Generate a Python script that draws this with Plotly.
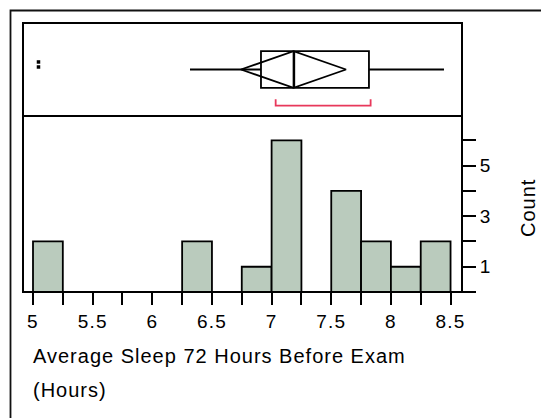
import plotly.graph_objects as go

# ---- data ----
bin_starts = [5.0, 6.25, 6.75, 7.0, 7.5, 7.75, 8.0, 8.25]
bin_counts = [2, 2, 1, 6, 4, 2, 1, 2]
bin_width = 0.25

# box plot summary
q1_value = 6.911
median_value = 7.190
q3_value = 7.816
lower_whisker = 6.316
upper_whisker = 8.445
mean_value = 7.184
mean_ci_low = 6.743
mean_ci_high = 7.624
shortest_half_low = 7.034
shortest_half_high = 7.830
outlier_x = [5.046, 5.046]

x_tick_vals = [5.0, 5.25, 5.5, 5.75, 6.0, 6.25, 6.5, 6.75, 7.0, 7.25, 7.5, 7.75, 8.0, 8.25, 8.5]
x_tick_text = ["5", "", "5.5", "", "6", "", "6.5", "", "7", "", "7.5", "", "8", "", "8.5"]
y_tick_vals = [0, 1, 2, 3, 4, 5, 6]
y_tick_text = ["", "1", "", "3", "", "5", ""]

x_title_1 = "Average Sleep 72 Hours Before Exam"
x_title_2 = "(Hours)"
y_title = "Count"

# ---- layout geometry (pixels) ----
W, H = 541, 418
L, R, T, B = 23, 462, 23, 292
split_px = 116
pw, ph = R - L, B - T
split = (B - split_px) / ph

def px_x(p):
    return (p - L) / pw

def px_y(p):
    return (B - p) / ph

FONT = "Liberation Sans, Arial, sans-serif"
BLACK = "#000000"

box_center = 0.5
box_w = 0.395
out_y = [0.581, 0.527]
br_top, br_bot = 0.18, 0.111

fig = go.Figure()

fig.add_trace(go.Bar(
    x=bin_starts, y=bin_counts, width=bin_width, offset=0,
    marker=dict(color="#bacbbd", line=dict(color=BLACK, width=1.8)),
    xaxis="x", yaxis="y", hoverinfo="skip",
))

fig.add_trace(go.Box(
    q1=[q1_value], median=[median_value], q3=[q3_value],
    lowerfence=[lower_whisker], upperfence=[upper_whisker],
    y=[box_center], orientation="h", width=box_w, whiskerwidth=0,
    fillcolor="rgba(0,0,0,0)", line=dict(color=BLACK, width=1.8),
    boxpoints=False, xaxis="x", yaxis="y2", hoverinfo="skip",
))

top, bot = box_center + box_w / 2, box_center - box_w / 2
fig.add_trace(go.Scatter(
    x=[mean_ci_low, mean_value, mean_ci_high, mean_value, mean_ci_low],
    y=[box_center, top, box_center, bot, box_center],
    mode="lines", line=dict(color=BLACK, width=1.8),
    xaxis="x", yaxis="y2", hoverinfo="skip",
))
fig.add_trace(go.Scatter(
    x=[mean_value, mean_value], y=[bot, top],
    mode="lines", line=dict(color=BLACK, width=1.8),
    xaxis="x", yaxis="y2", hoverinfo="skip",
))
fig.add_trace(go.Scatter(
    x=[shortest_half_low, shortest_half_low, shortest_half_high, shortest_half_high],
    y=[br_top, br_bot, br_bot, br_top],
    mode="lines", line=dict(color="#e8385b", width=1.8),
    xaxis="x", yaxis="y2", hoverinfo="skip",
))
fig.add_trace(go.Scatter(
    x=outlier_x, y=out_y, mode="markers",
    marker=dict(symbol="square", size=3.5, color=BLACK, line=dict(width=0)),
    xaxis="x", yaxis="y2", hoverinfo="skip",
))

fig.update_layout(
    width=W, height=H,
    margin=dict(l=L, r=W - R, t=T, b=H - B, pad=0),
    paper_bgcolor="white", plot_bgcolor="white",
    showlegend=False,
    font=dict(family=FONT, size=18, color=BLACK),
    xaxis=dict(
        domain=[0, 1], range=[5 - 10 / 119.3, 5 + (R - 33) / 119.3], anchor="y",
        tickmode="array", tickvals=x_tick_vals, ticktext=x_tick_text,
        ticks="outside", ticklen=12, tickwidth=1.6, tickcolor=BLACK,
        showgrid=False, zeroline=False, showline=False,
        tickfont=dict(size=19, color=BLACK, family=FONT),
    ),
    yaxis=dict(
        domain=[0, split], range=[0, (B - split_px) / 25.27], anchor="x", side="right",
        tickmode="array", tickvals=y_tick_vals, ticktext=y_tick_text,
        ticks="outside", ticklen=13, tickwidth=1.6, tickcolor=BLACK,
        showgrid=False, zeroline=False, showline=False,
        tickfont=dict(size=19, color=BLACK, family=FONT),
    ),
    yaxis2=dict(domain=[split, 1], range=[0, 1], anchor="x", visible=False),
    shapes=[
        dict(type="rect", xref="paper", yref="paper",
             x0=px_x(10.5), x1=px_x(W + 20), y0=px_y(H + 20), y1=px_y(10.5),
             line=dict(color="#111111", width=1.8), layer="above"),
        dict(type="rect", xref="paper", yref="paper",
             x0=0, x1=1, y0=split, y1=1,
             line=dict(color=BLACK, width=2), layer="above"),
        dict(type="rect", xref="paper", yref="paper",
             x0=0, x1=1, y0=0, y1=split,
             line=dict(color=BLACK, width=2), layer="above"),
    ],
    annotations=[
        dict(text=x_title_1, xref="paper", yref="paper", align="left",
             x=px_x(31), y=px_y(355.7), xanchor="left", yanchor="middle",
             showarrow=False, font=dict(size=20, color=BLACK, family=FONT)),
        dict(text=x_title_2, xref="paper", yref="paper", align="left",
             x=px_x(31), y=px_y(389.7), xanchor="left", yanchor="middle",
             showarrow=False, font=dict(size=20, color=BLACK, family=FONT)),
        dict(text=y_title, xref="paper", yref="paper",
             x=px_x(527.5), y=px_y(208), xanchor="center", yanchor="middle",
             textangle=-90, showarrow=False,
             font=dict(size=20, color=BLACK, family=FONT)),
    ],
)

post = """
document.querySelectorAll('.annotation-text').forEach(function(t){t.style.letterSpacing='1px';});
document.querySelectorAll('.xtick text, .ytick text').forEach(function(t){t.style.letterSpacing='1.2px';});
"""
fig.write_html("out.html", post_script=post)
